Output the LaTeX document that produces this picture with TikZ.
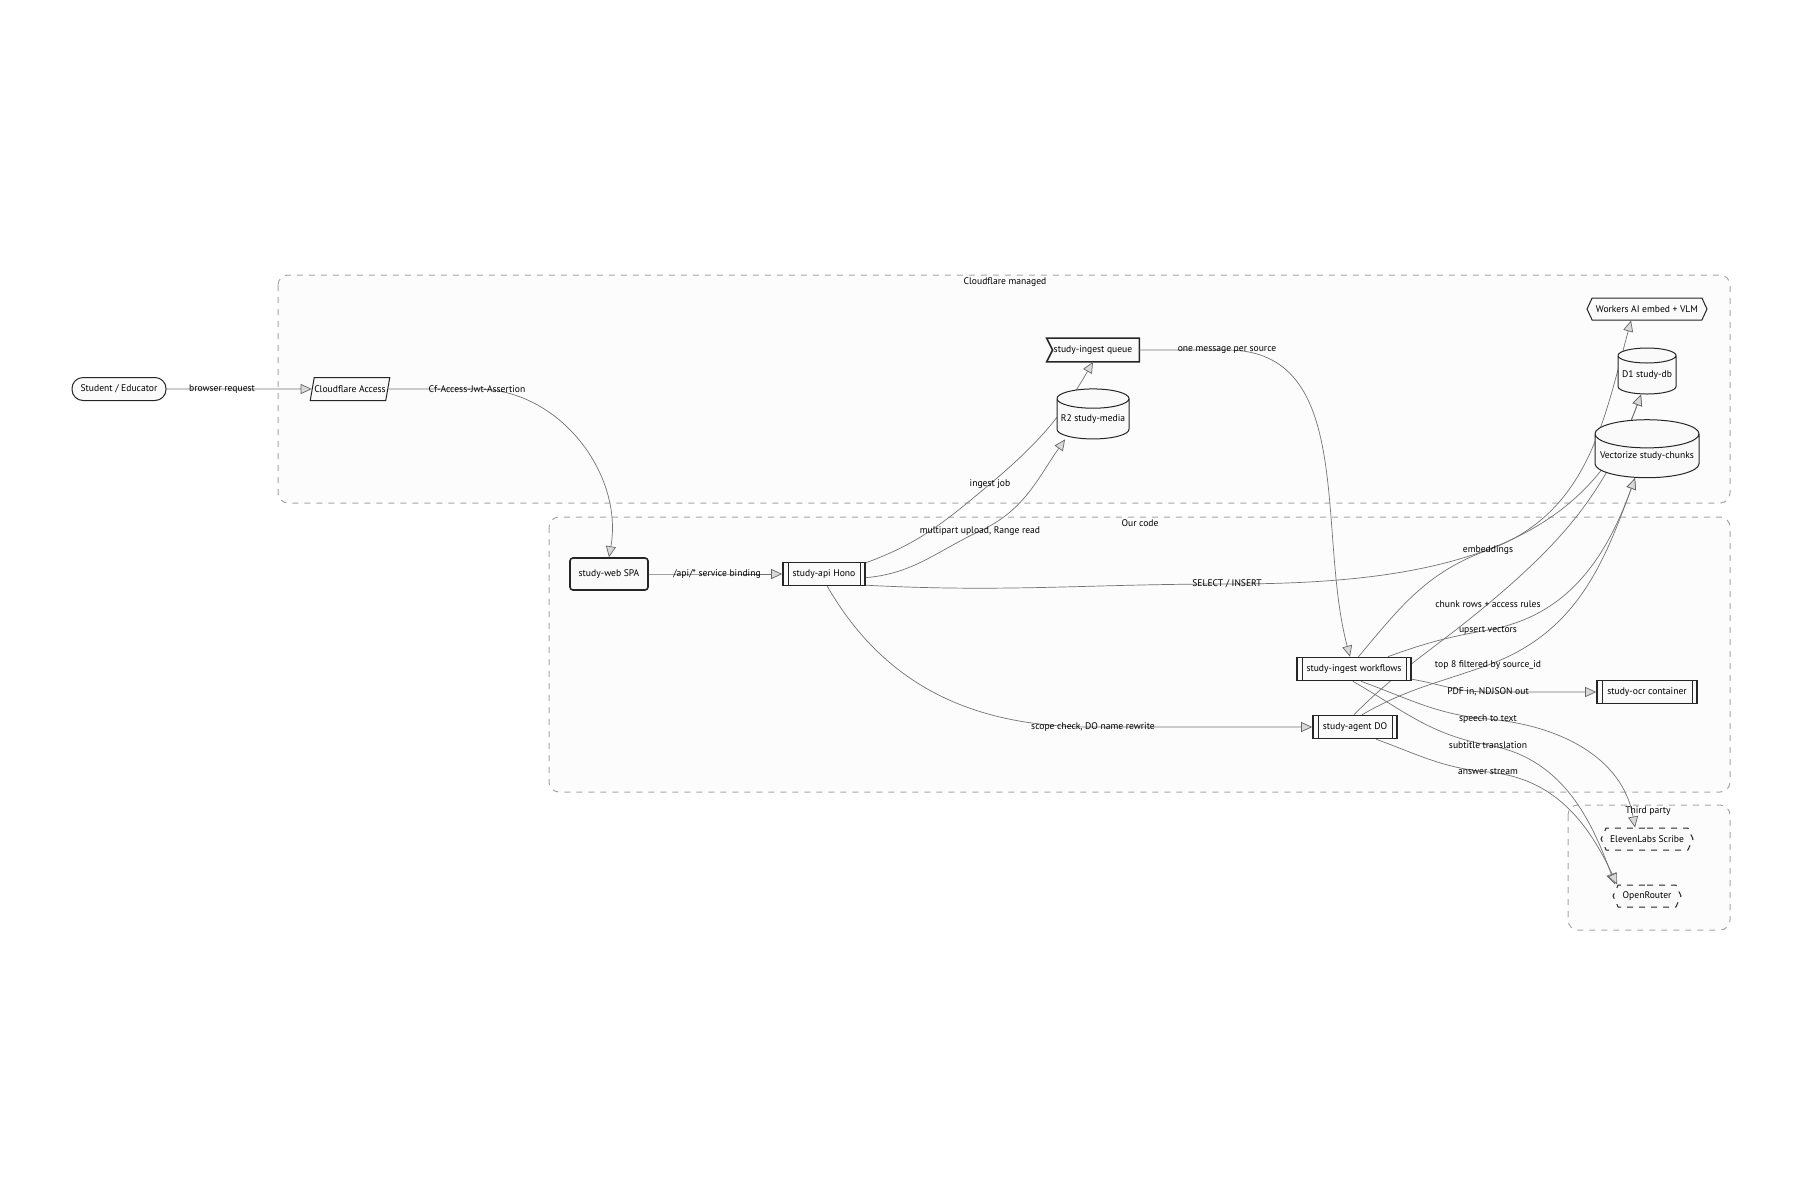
\documentclass[tikz,border=0pt]{standalone}
\usepackage{fontspec}
\setmainfont{PT Sans}
\usetikzlibrary{shapes.geometric,shapes.misc,shapes.symbols,arrows.meta}
\pgfdeclarelayer{clusterlayer}
\pgfdeclarelayer{edgelayer}
\pgfsetlayers{clusterlayer,edgelayer,main}
\begin{document}
\begin{tikzpicture}[x=0.5pt,y=-0.5pt,
  every node/.style={font=\fontsize{4.8}{5.5}\selectfont, inner sep=0pt},
  box/.style={draw=black!85, fill=black!2, line width=0.5pt, minimum height=11.5pt},
  sub/.style={box, line width=0.8pt, path picture={
     \draw[line width=0.5pt] ([xshift=2.5pt]path picture bounding box.north west) -- ([xshift=2.5pt]path picture bounding box.south west);
     \draw[line width=0.5pt] ([xshift=-2.5pt]path picture bounding box.north east) -- ([xshift=-2.5pt]path picture bounding box.south east);}},
  cyl/.style={box, cylinder, shape border rotate=90, aspect=0.3},
  hex/.style={draw=black!85, fill=black!2, line width=0.5pt, signal, signal to=east and west, signal pointer angle=130, minimum height=11pt},
  cluster/.style={draw=black!35, dashed, rounded corners=5pt, fill=black!1, line width=0.5pt},
  lbl/.style={fill=none},
  arr/.style={draw=black!55, line width=0.35pt, -{Triangle[length=5.5pt,width=5pt,fill=black!15,color=black!60]}}]
\useasboundingbox (0,0) rectangle (1800,1200);
\begin{pgfonlayer}{clusterlayer}
\draw[cluster] (278,275) rectangle (1730,503);
\draw[cluster] (549,517) rectangle (1730,792);
\draw[cluster] (1568,805) rectangle (1730,930);
\end{pgfonlayer}
\node (cCF) at (1005,282) {Cloudflare managed};
\node (cOur) at (1140,523) {Our code};
\node (cTP) at (1648,811) {Third party};
% nodes
\node[box, rounded corners=5.5pt, minimum width=47pt] (stu) at (119,389) {Student / Educator};
\node[box, trapezium, trapezium left angle=60, trapezium right angle=120, minimum width=36pt, trapezium stretches body] (acc) at (350,389) {Cloudflare Access};
\node[minimum width=46pt, minimum height=11.5pt] (q) at (1093,350) {study-ingest queue};
\node[cyl, minimum width=36pt, minimum height=25pt] (r2) at (1093,419) {R2 study-media};
\node[hex, minimum width=60pt] (wai) at (1647,309) {Workers AI embed + VLM};
\node[cyl, minimum width=29pt, minimum height=23pt] (d1) at (1647,375) {D1 study-db};
\node[cyl, minimum width=52pt, minimum height=29pt] (vec) at (1647,456) {Vectorize study-chunks};
\node[box, line width=0.8pt, rounded corners=1.5pt, minimum width=39pt, minimum height=16pt] (spa) at (609,574) {study-web SPA};
\node[sub, minimum width=41pt] (hono) at (824,574) {study-api Hono};
\node[sub, minimum width=57pt] (wf) at (1354,669) {study-ingest workflows};
\node[sub, minimum width=50pt] (ocr) at (1647,692) {study-ocr container};
\node[sub, minimum width=42pt] (ag) at (1355,727) {study-agent DO};
\node[hex, dashed, minimum width=46pt] (el) at (1647,839) {ElevenLabs Scribe};
\node[hex, dashed, minimum width=34pt] (or) at (1647,896) {OpenRouter};
% labels
\node[lbl] (l1) at (222,389) {browser request};
\node[lbl] (l2) at (477,389) {Cf-Access-Jwt-Assertion};
\node[lbl] (l3) at (717,574) {/api/* service binding};
\node[lbl] (l4) at (990,484) {ingest job};
\node[lbl] (l5) at (980,531) {multipart upload, Range read};
\node[lbl] (l6) at (1227,584) {SELECT / INSERT};
\node[lbl] (l7) at (1093,727) {scope check, DO name rewrite};
\node[lbl] (l8) at (1227,350) {one message per source};
\node[lbl] (l9) at (1488,550) {embeddings};
\node[lbl] (l10) at (1488,604) {chunk rows + access rules};
\node[lbl] (l11) at (1488,630) {upsert vectors};
\node[lbl] (l12) at (1488,665) {top 8 filtered by source\_id};
\node[lbl] (l13) at (1488,692) {PDF in, NDJSON out};
\node[lbl] (l14) at (1488,719) {speech to text};
\node[lbl] (l15) at (1488,745) {subtitle translation};
\node[lbl] (l16) at (1488,772) {answer stream};
% edges
\begin{pgfonlayer}{edgelayer}
\draw[draw=black!85, fill=black!2, line width=0.8pt] (q.north west) -- (q.north east) -- (q.south east) -- (q.south west) -- ([xshift=3pt]q.west) -- cycle;
\draw[arr] (stu.east) -- (l1.center) -- (acc.west);
\draw[arr] (acc.east) -- (l2.center) to[out=0,in=80] (spa.north);
\draw[arr] (spa.east) -- (l3.center) -- (hono.west);
\draw[arr] (hono.15) to[out=20,in=220] (l4.center) to[out=40,in=-120] (q.south);
\draw[arr] (hono.-5) to[out=5,in=205] (l5.center) to[out=25,in=-125] ([xshift=-14pt]r2.south);
\draw[arr] (hono.-15) to[out=-3,in=180] (l6.center) to[out=0,in=-110] ([xshift=-3pt]d1.south);
\draw[arr] (hono.-75) to[out=-60,in=180] (l7.center) -- (ag.west);
\draw[arr] (q.east) -- (l8.center) to[out=0,in=105] ([xshift=-2pt]wf.north);
\draw[arr] (wf.70) to[out=50,in=200] (l9.center) to[out=20,in=-105] ([xshift=-8pt]wai.south);
\draw[arr] (ag.95) to[out=45,in=220] (l10.center) to[out=40,in=-110] ([xshift=-3pt]d1.south);
\draw[arr] (wf.20) to[out=20,in=190] (l11.center) to[out=10,in=-110] ([xshift=-6pt]vec.south);
\draw[arr] (ag.60) to[out=30,in=200] (l12.center) to[out=20,in=-110] ([xshift=-6pt]vec.south);
\draw[arr] (wf.-10) to[out=-10,in=180] (l13.center) -- (ocr.west);
\draw[arr] (wf.-60) to[out=-20,in=175] (l14.center) to[out=-5,in=100] ([xshift=-6pt]el.north);
\draw[arr] (wf.-95) to[out=-30,in=170] (l15.center) to[out=-10,in=110] ([xshift=-16pt]or.north);
\draw[arr] (ag.-30) to[out=-20,in=175] (l16.center) to[out=-5,in=115] ([xshift=-15pt]or.north);
\end{pgfonlayer}
\end{tikzpicture}
\end{document}
